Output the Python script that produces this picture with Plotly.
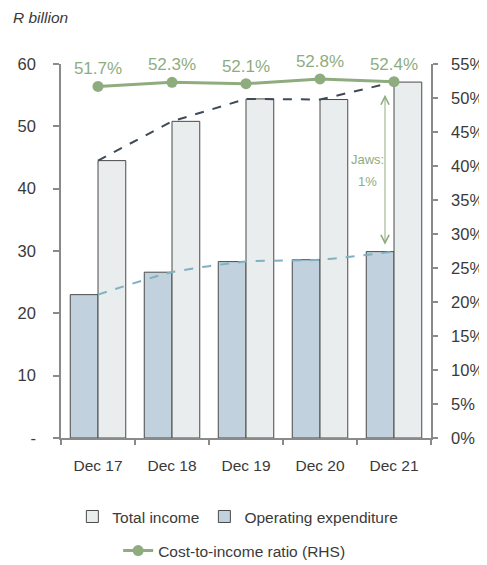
import plotly.graph_objects as go

categories = ["Dec 17", "Dec 18", "Dec 19", "Dec 20", "Dec 21"]
total_income = [44.5, 50.8, 54.4, 54.3, 57.1]
operating_expenditure = [23.0, 26.6, 28.3, 28.6, 29.9]
cost_to_income = [0.517, 0.523, 0.521, 0.528, 0.524]
ratio_labels = ["51.7%", "52.3%", "52.1%", "52.8%", "52.4%"]
left_tickvals = [0, 10, 20, 30, 40, 50, 60]
left_ticktext = ["-", "10", "20", "30", "40", "50", "60"]
right_tickvals = [i / 100 for i in range(0, 56, 5)]
right_ticktext = [f"{i}%" for i in range(0, 56, 5)]

FONT = "Liberation Sans, Arial, sans-serif"
GREEN = "#8fac7f"
TXT = "#3a3a3a"
AX = "#8a8a8a"

fig = go.Figure()

fig.add_trace(go.Bar(
    x=categories, y=operating_expenditure, name="Operating expenditure",
    marker=dict(color="#c1d1dd", line=dict(color="#4a4a4a", width=1)),
    legend="legend", legendrank=2,
))
fig.add_trace(go.Bar(
    x=categories, y=total_income, name="Total income",
    marker=dict(color="#e9eded", line=dict(color="#4a4a4a", width=1)),
    legend="legend", legendrank=1,
))
fig.add_trace(go.Scatter(
    x=categories, y=total_income, mode="lines", showlegend=False,
    line=dict(color="#3e4b57", width=2, dash="dash"), hoverinfo="skip",
))
fig.add_trace(go.Scatter(
    x=categories, y=operating_expenditure, mode="lines", showlegend=False,
    line=dict(color="#7fb1c0", width=2, dash="dash", shape="spline", smoothing=0.6),
    hoverinfo="skip",
))
fig.add_trace(go.Scatter(
    x=categories, y=cost_to_income, yaxis="y2", mode="lines+markers+text",
    name="Cost-to-income ratio (RHS)",
    line=dict(color=GREEN, width=3), marker=dict(color=GREEN, size=11),
    text=ratio_labels, textposition="top center",
    textfont=dict(color=GREEN, size=17, family=FONT),
    cliponaxis=False, legend="legend2",
))

# Jaws arrow
fig.add_annotation(
    x="Dec 21", y=31.0, ax="Dec 21", ay=55.3, xref="x", yref="y", axref="x", ayref="y",
    xshift=-9, text="", showarrow=True, arrowside="end+start", arrowhead=5, startarrowhead=5,
    arrowsize=1.6, startarrowsize=1.6, arrowwidth=1, arrowcolor=GREEN, standoff=0, startstandoff=0,
)
fig.add_annotation(x="Dec 21", y=44.7, xref="x", yref="y", xshift=-27,
                   text="Jaws:", showarrow=False, font=dict(color=GREEN, size=13, family=FONT))
fig.add_annotation(x="Dec 21", y=41.2, xref="x", yref="y", xshift=-27,
                   text="1%", showarrow=False, font=dict(color=GREEN, size=13, family=FONT))

fig.add_annotation(x=-0.135, y=1.125, xref="paper", yref="paper", xanchor="left", yanchor="middle",
                   text="<i>R billion</i>", showarrow=False, font=dict(size=15.5, color=TXT))

# the page body has an 8px margin, so the figure is sized to fill the window from (8, 8)
fig.update_layout(
    width=479, height=557,
    margin=dict(l=53, r=56, t=56, b=127, pad=0, autoexpand=False),
    paper_bgcolor="white", plot_bgcolor="white",
    font=dict(family=FONT, size=15, color=TXT),
    barmode="group", bargap=0.25, bargroupgap=0,
    showlegend=True,
    legend=dict(orientation="h", x=0.478, xanchor="center", y=-0.211, yanchor="middle",
                font=dict(size=15.5, family=FONT, color=TXT), traceorder="normal",
                bgcolor="rgba(0,0,0,0)"),
    legend2=dict(orientation="h", x=0.468, xanchor="center", y=-0.302, yanchor="middle",
                 font=dict(size=15.5, family=FONT, color=TXT), bgcolor="rgba(0,0,0,0)"),
    xaxis=dict(type="category", showline=True, linecolor=AX, linewidth=1.5, automargin=False,
               ticks="outside", tickson="boundaries", ticklen=5, tickcolor=AX, tickwidth=1.5,
               showgrid=False, tickfont=dict(size=15.5, color=TXT), ticklabelstandoff=13),
    yaxis=dict(range=[0, 60], tickvals=left_tickvals, ticktext=left_ticktext, automargin=False,
               showline=True, linecolor=AX, linewidth=1.5, ticks="outside", ticklen=6,
               tickcolor=AX, tickwidth=1.5, showgrid=False, zeroline=False,
               tickfont=dict(size=16.5, color=TXT), ticklabelstandoff=14),
    yaxis2=dict(range=[0, 0.55], tickvals=right_tickvals, ticktext=right_ticktext,
                overlaying="y", side="right", showline=True, linecolor=AX, linewidth=1.5,
                automargin=False,
                ticks="outside", ticklen=5, tickcolor=AX, tickwidth=1.5, showgrid=False,
                zeroline=False, tickfont=dict(size=16.5, color=TXT), ticklabelstandoff=10),
)

fig.write_html("out.html")
